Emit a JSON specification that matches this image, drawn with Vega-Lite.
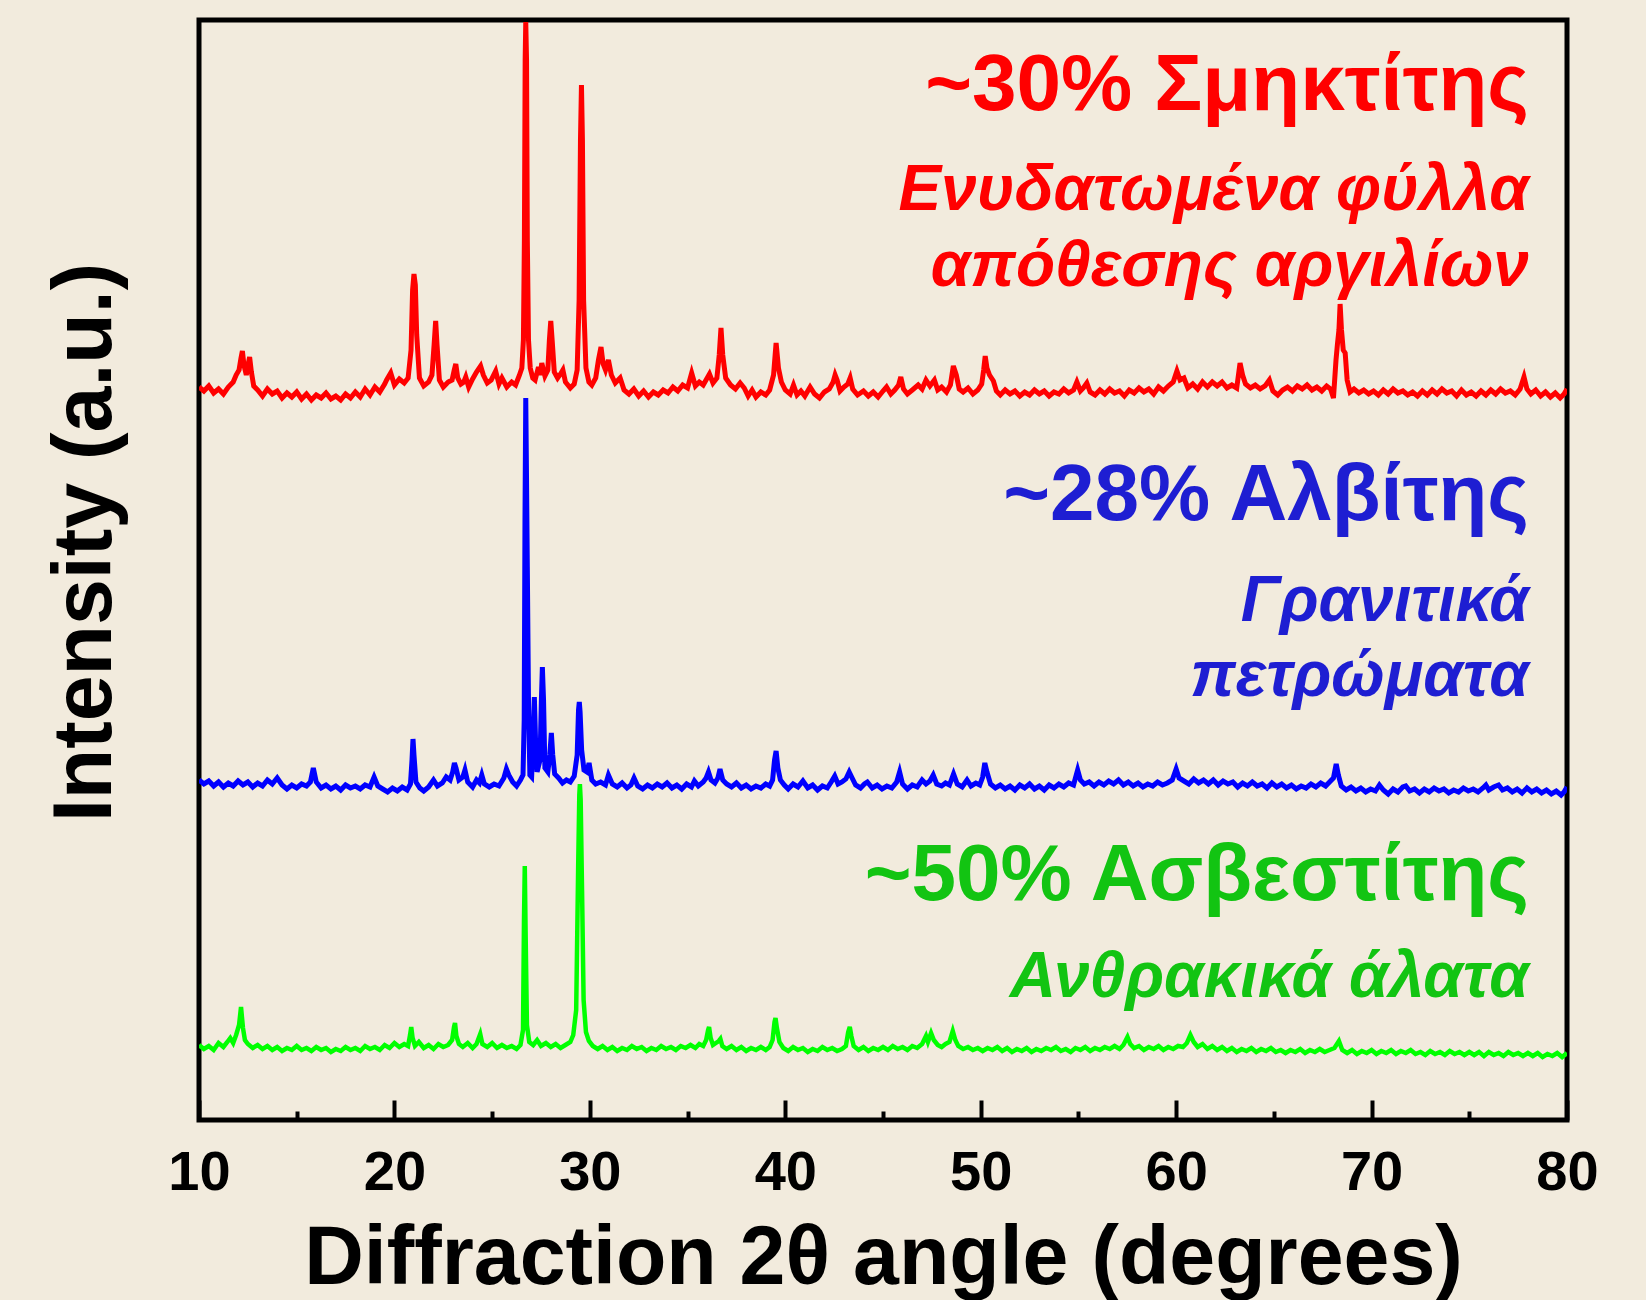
{
 "$schema": "https://vega.github.io/schema/vega-lite/v6.json",
 "width": 1368, "height": 1100,
 "autosize": {"type": "none"},
 "padding": {"left": 199, "top": 20, "right": 79, "bottom": 180},
 "background": "#F2EBDD",
 "config": {"view": {"stroke": "#000000", "strokeWidth": 5}, "font": "Liberation Sans"},
 "datasets": {
  "red": [
{"x":10.0,"y":733},{"x":10.25,"y":729},{"x":10.5,"y":734},{"x":10.75,"y":727},{"x":11.0,"y":731},{"x":11.25,"y":726},{"x":11.5,"y":733},{"x":11.75,"y":738},{"x":11.9,"y":745},{"x":12.05,"y":750},{"x":12.15,"y":762},{"x":12.22,"y":769},{"x":12.3,"y":755},{"x":12.42,"y":745},{"x":12.52,"y":756},{"x":12.59,"y":763},{"x":12.68,"y":748},{"x":12.8,"y":734},{"x":13.0,"y":730},{"x":13.25,"y":724},{"x":13.5,"y":731},{"x":13.75,"y":726},{"x":14.0,"y":729},{"x":14.25,"y":722},{"x":14.5,"y":727},{"x":14.75,"y":723},{"x":15.0,"y":728},{"x":15.25,"y":721},{"x":15.5,"y":726},{"x":15.75,"y":720},{"x":16.0,"y":725},{"x":16.25,"y":722},{"x":16.5,"y":727},{"x":16.75,"y":721},{"x":17.0,"y":724},{"x":17.25,"y":720},{"x":17.5,"y":726},{"x":17.75,"y":722},{"x":18.0,"y":728},{"x":18.25,"y":723},{"x":18.5,"y":731},{"x":18.75,"y":725},{"x":19.0,"y":733},{"x":19.25,"y":728},{"x":19.5,"y":736},{"x":19.6,"y":740},{"x":19.81,"y":747},{"x":20.0,"y":735},{"x":20.25,"y":741},{"x":20.5,"y":737},{"x":20.7,"y":742},{"x":20.85,"y":770},{"x":20.93,"y":830},{"x":21.0,"y":846},{"x":21.07,"y":835},{"x":21.14,"y":785},{"x":21.28,"y":742},{"x":21.5,"y":734},{"x":21.75,"y":738},{"x":21.92,"y":745},{"x":22.03,"y":775},{"x":22.11,"y":799},{"x":22.18,"y":775},{"x":22.3,"y":740},{"x":22.5,"y":733},{"x":22.75,"y":738},{"x":22.95,"y":740},{"x":23.06,"y":750},{"x":23.14,"y":756},{"x":23.24,"y":742},{"x":23.4,"y":736},{"x":23.55,"y":738},{"x":23.65,"y":743},{"x":23.8,"y":733},{"x":24.0,"y":741},{"x":24.2,"y":748},{"x":24.41,"y":754},{"x":24.55,"y":745},{"x":24.75,"y":737},{"x":24.95,"y":740},{"x":25.18,"y":749},{"x":25.35,"y":736},{"x":25.5,"y":742},{"x":25.75,"y":733},{"x":26.0,"y":738},{"x":26.2,"y":735},{"x":26.4,"y":745},{"x":26.52,"y":752},{"x":26.6,"y":780},{"x":26.65,"y":880},{"x":26.69,"y":1060},{"x":26.72,"y":1098},{"x":26.76,"y":1060},{"x":26.8,"y":880},{"x":26.86,"y":780},{"x":26.95,"y":752},{"x":27.08,"y":742},{"x":27.2,"y":740},{"x":27.37,"y":753},{"x":27.46,"y":745},{"x":27.54,"y":757},{"x":27.7,"y":744},{"x":27.85,"y":750},{"x":27.93,"y":780},{"x":28.0,"y":799},{"x":28.07,"y":780},{"x":28.18,"y":748},{"x":28.35,"y":742},{"x":28.5,"y":746},{"x":28.62,"y":750},{"x":28.75,"y":738},{"x":29.0,"y":732},{"x":29.2,"y":736},{"x":29.35,"y":750},{"x":29.45,"y":820},{"x":29.52,"y":980},{"x":29.57,"y":1035},{"x":29.62,"y":980},{"x":29.68,"y":820},{"x":29.8,"y":752},{"x":29.95,"y":738},{"x":30.1,"y":735},{"x":30.3,"y":742},{"x":30.44,"y":760},{"x":30.57,"y":773},{"x":30.68,"y":756},{"x":30.8,"y":750},{"x":30.95,"y":760},{"x":31.1,"y":745},{"x":31.3,"y":737},{"x":31.55,"y":742},{"x":31.75,"y":730},{"x":32.0,"y":726},{"x":32.25,"y":731},{"x":32.5,"y":724},{"x":32.75,"y":729},{"x":33.0,"y":723},{"x":33.25,"y":728},{"x":33.5,"y":725},{"x":33.75,"y":730},{"x":34.0,"y":727},{"x":34.25,"y":733},{"x":34.5,"y":729},{"x":34.75,"y":735},{"x":35.0,"y":732},{"x":35.21,"y":747},{"x":35.4,"y":734},{"x":35.6,"y":738},{"x":35.8,"y":735},{"x":36.12,"y":746},{"x":36.3,"y":737},{"x":36.5,"y":742},{"x":36.62,"y":765},{"x":36.71,"y":792},{"x":36.8,"y":765},{"x":36.95,"y":742},{"x":37.2,"y":735},{"x":37.45,"y":731},{"x":37.69,"y":737},{"x":37.9,"y":732},{"x":38.1,"y":724},{"x":38.3,"y":730},{"x":38.5,"y":723},{"x":38.75,"y":728},{"x":39.0,"y":725},{"x":39.2,"y":730},{"x":39.4,"y":745},{"x":39.53,"y":777},{"x":39.65,"y":752},{"x":39.8,"y":738},{"x":40.0,"y":730},{"x":40.25,"y":726},{"x":40.42,"y":735},{"x":40.6,"y":725},{"x":40.8,"y":729},{"x":41.0,"y":724},{"x":41.27,"y":733},{"x":41.5,"y":726},{"x":41.75,"y":722},{"x":42.0,"y":728},{"x":42.25,"y":731},{"x":42.45,"y":738},{"x":42.55,"y":745},{"x":42.65,"y":740},{"x":42.8,"y":729},{"x":43.0,"y":733},{"x":43.2,"y":736},{"x":43.32,"y":742},{"x":43.45,"y":731},{"x":43.7,"y":725},{"x":44.0,"y":729},{"x":44.25,"y":724},{"x":44.5,"y":728},{"x":44.75,"y":723},{"x":45.0,"y":729},{"x":45.18,"y":733},{"x":45.4,"y":726},{"x":45.6,"y":730},{"x":45.8,"y":735},{"x":45.91,"y":743},{"x":46.05,"y":731},{"x":46.25,"y":726},{"x":46.5,"y":730},{"x":46.8,"y":735},{"x":47.0,"y":731},{"x":47.2,"y":740},{"x":47.4,"y":734},{"x":47.63,"y":740},{"x":47.8,"y":730},{"x":48.0,"y":733},{"x":48.25,"y":728},{"x":48.45,"y":735},{"x":48.6,"y":754},{"x":48.75,"y":745},{"x":48.9,"y":731},{"x":49.1,"y":728},{"x":49.35,"y":732},{"x":49.6,"y":726},{"x":49.85,"y":730},{"x":50.05,"y":736},{"x":50.15,"y":750},{"x":50.23,"y":764},{"x":50.32,"y":752},{"x":50.45,"y":745},{"x":50.65,"y":739},{"x":50.8,"y":729},{"x":51.0,"y":725},{"x":51.25,"y":730},{"x":51.5,"y":726},{"x":51.75,"y":729},{"x":52.0,"y":724},{"x":52.25,"y":728},{"x":52.5,"y":725},{"x":52.75,"y":730},{"x":53.0,"y":726},{"x":53.25,"y":729},{"x":53.5,"y":724},{"x":53.75,"y":728},{"x":54.0,"y":726},{"x":54.25,"y":731},{"x":54.5,"y":727},{"x":54.75,"y":730},{"x":54.92,"y":738},{"x":55.1,"y":729},{"x":55.25,"y":732},{"x":55.43,"y":737},{"x":55.6,"y":728},{"x":55.85,"y":725},{"x":56.1,"y":730},{"x":56.35,"y":726},{"x":56.6,"y":731},{"x":56.85,"y":727},{"x":57.1,"y":729},{"x":57.35,"y":724},{"x":57.6,"y":730},{"x":57.85,"y":727},{"x":58.1,"y":732},{"x":58.35,"y":728},{"x":58.6,"y":731},{"x":58.85,"y":726},{"x":59.1,"y":733},{"x":59.35,"y":729},{"x":59.6,"y":734},{"x":59.85,"y":738},{"x":60.04,"y":749},{"x":60.2,"y":740},{"x":60.4,"y":742},{"x":60.6,"y":732},{"x":60.85,"y":736},{"x":61.1,"y":731},{"x":61.35,"y":738},{"x":61.6,"y":733},{"x":61.85,"y":738},{"x":62.1,"y":734},{"x":62.35,"y":738},{"x":62.6,"y":732},{"x":62.85,"y":735},{"x":63.1,"y":732},{"x":63.27,"y":757},{"x":63.4,"y":745},{"x":63.55,"y":736},{"x":63.8,"y":732},{"x":64.05,"y":735},{"x":64.3,"y":731},{"x":64.55,"y":734},{"x":64.77,"y":740},{"x":64.95,"y":729},{"x":65.2,"y":725},{"x":65.45,"y":730},{"x":65.7,"y":733},{"x":65.95,"y":729},{"x":66.2,"y":734},{"x":66.45,"y":731},{"x":66.7,"y":735},{"x":66.95,"y":730},{"x":67.2,"y":733},{"x":67.45,"y":729},{"x":67.7,"y":734},{"x":67.9,"y":731},{"x":68.05,"y":722},{"x":68.18,"y":760},{"x":68.25,"y":775},{"x":68.33,"y":790},{"x":68.39,"y":816},{"x":68.46,"y":790},{"x":68.55,"y":770},{"x":68.65,"y":767},{"x":68.75,"y":740},{"x":68.9,"y":728},{"x":69.1,"y":731},{"x":69.35,"y":727},{"x":69.6,"y":730},{"x":69.85,"y":726},{"x":70.1,"y":729},{"x":70.35,"y":725},{"x":70.6,"y":730},{"x":70.85,"y":726},{"x":71.1,"y":731},{"x":71.35,"y":727},{"x":71.6,"y":729},{"x":71.85,"y":725},{"x":72.1,"y":728},{"x":72.35,"y":724},{"x":72.6,"y":729},{"x":72.85,"y":725},{"x":73.1,"y":730},{"x":73.35,"y":726},{"x":73.6,"y":731},{"x":73.85,"y":727},{"x":74.1,"y":729},{"x":74.35,"y":724},{"x":74.6,"y":730},{"x":74.85,"y":725},{"x":75.1,"y":728},{"x":75.35,"y":724},{"x":75.6,"y":729},{"x":75.85,"y":725},{"x":76.1,"y":730},{"x":76.35,"y":726},{"x":76.6,"y":731},{"x":76.85,"y":727},{"x":77.1,"y":729},{"x":77.35,"y":725},{"x":77.6,"y":731},{"x":77.8,"y":743},{"x":77.95,"y":731},{"x":78.15,"y":726},{"x":78.4,"y":730},{"x":78.65,"y":724},{"x":78.9,"y":728},{"x":79.15,"y":723},{"x":79.4,"y":727},{"x":79.65,"y":722},{"x":79.85,"y":726},{"x":80.0,"y":731}
  ],
  "blue": [
{"x":10.0,"y":340},{"x":10.25,"y":336},{"x":10.5,"y":339},{"x":10.75,"y":334},{"x":11.0,"y":338},{"x":11.25,"y":333},{"x":11.5,"y":337},{"x":11.75,"y":334},{"x":12.0,"y":339},{"x":12.25,"y":335},{"x":12.5,"y":338},{"x":12.75,"y":333},{"x":13.0,"y":337},{"x":13.25,"y":334},{"x":13.5,"y":340},{"x":13.75,"y":336},{"x":14.0,"y":342},{"x":14.25,"y":335},{"x":14.5,"y":331},{"x":14.75,"y":335},{"x":15.0,"y":332},{"x":15.25,"y":336},{"x":15.5,"y":334},{"x":15.7,"y":338},{"x":15.85,"y":352},{"x":16.0,"y":338},{"x":16.25,"y":332},{"x":16.5,"y":335},{"x":16.75,"y":331},{"x":17.0,"y":334},{"x":17.25,"y":330},{"x":17.5,"y":335},{"x":17.75,"y":332},{"x":18.0,"y":334},{"x":18.25,"y":331},{"x":18.5,"y":335},{"x":18.75,"y":333},{"x":18.96,"y":343},{"x":19.15,"y":334},{"x":19.4,"y":331},{"x":19.65,"y":328},{"x":19.9,"y":332},{"x":20.15,"y":329},{"x":20.4,"y":333},{"x":20.65,"y":330},{"x":20.82,"y":336},{"x":20.9,"y":360},{"x":20.95,"y":381},{"x":21.0,"y":365},{"x":21.1,"y":338},{"x":21.3,"y":332},{"x":21.5,"y":329},{"x":21.75,"y":333},{"x":22.0,"y":340},{"x":22.2,"y":334},{"x":22.45,"y":337},{"x":22.65,"y":343},{"x":22.85,"y":340},{"x":22.98,"y":348},{"x":23.07,"y":357},{"x":23.15,"y":352},{"x":23.3,"y":340},{"x":23.5,"y":343},{"x":23.61,"y":350},{"x":23.75,"y":338},{"x":24.0,"y":333},{"x":24.2,"y":340},{"x":24.35,"y":337},{"x":24.47,"y":345},{"x":24.6,"y":336},{"x":24.85,"y":333},{"x":25.1,"y":336},{"x":25.35,"y":334},{"x":25.6,"y":342},{"x":25.73,"y":351},{"x":25.85,"y":345},{"x":26.05,"y":338},{"x":26.25,"y":334},{"x":26.45,"y":340},{"x":26.58,"y":345},{"x":26.64,"y":400},{"x":26.68,"y":600},{"x":26.72,"y":722},{"x":26.76,"y":640},{"x":26.8,"y":553},{"x":26.86,"y":420},{"x":26.93,"y":345},{"x":27.02,"y":343},{"x":27.1,"y":380},{"x":27.16,"y":423},{"x":27.22,"y":380},{"x":27.3,"y":348},{"x":27.45,"y":360},{"x":27.52,"y":420},{"x":27.57,"y":453},{"x":27.63,"y":420},{"x":27.7,"y":352},{"x":27.85,"y":348},{"x":27.95,"y":365},{"x":28.03,"y":387},{"x":28.1,"y":365},{"x":28.2,"y":346},{"x":28.4,"y":342},{"x":28.6,"y":337},{"x":28.8,"y":340},{"x":29.0,"y":338},{"x":29.2,"y":344},{"x":29.35,"y":365},{"x":29.42,"y":410},{"x":29.46,"y":418},{"x":29.5,"y":408},{"x":29.58,"y":370},{"x":29.7,"y":350},{"x":29.85,"y":348},{"x":29.96,"y":357},{"x":30.1,"y":340},{"x":30.3,"y":336},{"x":30.55,"y":338},{"x":30.8,"y":335},{"x":30.95,"y":345},{"x":31.15,"y":336},{"x":31.4,"y":333},{"x":31.65,"y":337},{"x":31.9,"y":332},{"x":32.1,"y":335},{"x":32.26,"y":342},{"x":32.45,"y":334},{"x":32.7,"y":331},{"x":32.95,"y":335},{"x":33.2,"y":332},{"x":33.45,"y":336},{"x":33.7,"y":333},{"x":33.95,"y":337},{"x":34.2,"y":332},{"x":34.45,"y":335},{"x":34.7,"y":331},{"x":34.95,"y":336},{"x":35.2,"y":333},{"x":35.35,"y":339},{"x":35.55,"y":334},{"x":35.8,"y":338},{"x":35.95,"y":342},{"x":36.07,"y":348},{"x":36.2,"y":340},{"x":36.4,"y":337},{"x":36.55,"y":342},{"x":36.66,"y":351},{"x":36.8,"y":340},{"x":37.0,"y":336},{"x":37.25,"y":333},{"x":37.5,"y":337},{"x":37.75,"y":332},{"x":38.0,"y":335},{"x":38.25,"y":331},{"x":38.5,"y":334},{"x":38.75,"y":332},{"x":39.0,"y":336},{"x":39.2,"y":334},{"x":39.35,"y":340},{"x":39.45,"y":360},{"x":39.53,"y":369},{"x":39.62,"y":352},{"x":39.75,"y":340},{"x":39.95,"y":335},{"x":40.15,"y":331},{"x":40.4,"y":336},{"x":40.65,"y":333},{"x":40.9,"y":339},{"x":41.15,"y":332},{"x":41.4,"y":335},{"x":41.65,"y":330},{"x":41.9,"y":334},{"x":42.15,"y":332},{"x":42.35,"y":338},{"x":42.53,"y":344},{"x":42.7,"y":336},{"x":42.9,"y":338},{"x":43.1,"y":341},{"x":43.27,"y":348},{"x":43.42,"y":342},{"x":43.6,"y":335},{"x":43.85,"y":332},{"x":44.05,"y":336},{"x":44.2,"y":338},{"x":44.45,"y":332},{"x":44.7,"y":335},{"x":44.95,"y":331},{"x":45.2,"y":334},{"x":45.45,"y":332},{"x":45.7,"y":338},{"x":45.85,"y":348},{"x":46.0,"y":336},{"x":46.25,"y":331},{"x":46.5,"y":335},{"x":46.75,"y":333},{"x":47.0,"y":340},{"x":47.2,"y":336},{"x":47.4,"y":339},{"x":47.57,"y":345},{"x":47.75,"y":336},{"x":48.0,"y":334},{"x":48.2,"y":337},{"x":48.4,"y":335},{"x":48.61,"y":346},{"x":48.8,"y":336},{"x":49.05,"y":333},{"x":49.3,"y":340},{"x":49.5,"y":334},{"x":49.75,"y":337},{"x":49.95,"y":335},{"x":50.1,"y":343},{"x":50.21,"y":357},{"x":50.32,"y":348},{"x":50.5,"y":336},{"x":50.75,"y":332},{"x":51.0,"y":335},{"x":51.25,"y":331},{"x":51.5,"y":334},{"x":51.75,"y":330},{"x":52.0,"y":335},{"x":52.25,"y":332},{"x":52.5,"y":336},{"x":52.75,"y":331},{"x":53.0,"y":334},{"x":53.25,"y":330},{"x":53.5,"y":335},{"x":53.75,"y":332},{"x":54.0,"y":336},{"x":54.25,"y":333},{"x":54.5,"y":337},{"x":54.75,"y":335},{"x":54.96,"y":350},{"x":55.1,"y":340},{"x":55.3,"y":336},{"x":55.55,"y":338},{"x":55.8,"y":334},{"x":56.05,"y":338},{"x":56.3,"y":335},{"x":56.55,"y":339},{"x":56.8,"y":336},{"x":57.05,"y":340},{"x":57.3,"y":335},{"x":57.55,"y":338},{"x":57.8,"y":334},{"x":58.05,"y":337},{"x":58.3,"y":333},{"x":58.55,"y":336},{"x":58.8,"y":334},{"x":59.05,"y":338},{"x":59.3,"y":335},{"x":59.55,"y":337},{"x":59.8,"y":340},{"x":60.0,"y":351},{"x":60.15,"y":342},{"x":60.4,"y":339},{"x":60.65,"y":336},{"x":60.9,"y":341},{"x":61.15,"y":337},{"x":61.4,"y":340},{"x":61.65,"y":336},{"x":61.9,"y":340},{"x":62.15,"y":335},{"x":62.4,"y":339},{"x":62.65,"y":336},{"x":62.9,"y":338},{"x":63.15,"y":333},{"x":63.4,"y":337},{"x":63.65,"y":334},{"x":63.9,"y":338},{"x":64.15,"y":334},{"x":64.4,"y":336},{"x":64.65,"y":332},{"x":64.9,"y":337},{"x":65.15,"y":333},{"x":65.4,"y":336},{"x":65.65,"y":332},{"x":65.9,"y":335},{"x":66.15,"y":331},{"x":66.4,"y":334},{"x":66.65,"y":332},{"x":66.9,"y":336},{"x":67.15,"y":333},{"x":67.4,"y":337},{"x":67.65,"y":334},{"x":67.9,"y":339},{"x":68.05,"y":342},{"x":68.19,"y":356},{"x":68.3,"y":345},{"x":68.45,"y":334},{"x":68.7,"y":330},{"x":68.95,"y":333},{"x":69.2,"y":329},{"x":69.45,"y":332},{"x":69.7,"y":328},{"x":69.95,"y":331},{"x":70.2,"y":329},{"x":70.4,"y":335},{"x":70.6,"y":330},{"x":70.85,"y":326},{"x":71.1,"y":331},{"x":71.35,"y":328},{"x":71.6,"y":333},{"x":71.75,"y":334},{"x":71.95,"y":329},{"x":72.2,"y":331},{"x":72.45,"y":327},{"x":72.7,"y":331},{"x":72.95,"y":328},{"x":73.2,"y":332},{"x":73.45,"y":329},{"x":73.7,"y":331},{"x":73.95,"y":327},{"x":74.2,"y":330},{"x":74.45,"y":328},{"x":74.7,"y":332},{"x":74.95,"y":329},{"x":75.2,"y":331},{"x":75.45,"y":328},{"x":75.7,"y":332},{"x":75.85,"y":335},{"x":76.0,"y":330},{"x":76.25,"y":333},{"x":76.5,"y":335},{"x":76.7,"y":330},{"x":76.95,"y":332},{"x":77.2,"y":328},{"x":77.45,"y":331},{"x":77.7,"y":327},{"x":77.95,"y":332},{"x":78.2,"y":328},{"x":78.45,"y":331},{"x":78.7,"y":327},{"x":78.95,"y":330},{"x":79.2,"y":326},{"x":79.45,"y":329},{"x":79.7,"y":325},{"x":79.85,"y":328},{"x":80.0,"y":333}
  ],
  "green": [
{"x":10.0,"y":75},{"x":10.25,"y":71},{"x":10.5,"y":74},{"x":10.75,"y":70},{"x":11.0,"y":77},{"x":11.25,"y":73},{"x":11.45,"y":78},{"x":11.6,"y":82},{"x":11.75,"y":77},{"x":11.9,"y":85},{"x":12.05,"y":95},{"x":12.15,"y":113},{"x":12.25,"y":92},{"x":12.35,"y":80},{"x":12.5,"y":76},{"x":12.75,"y":72},{"x":13.0,"y":75},{"x":13.25,"y":71},{"x":13.5,"y":74},{"x":13.75,"y":70},{"x":14.0,"y":73},{"x":14.25,"y":69},{"x":14.5,"y":72},{"x":14.75,"y":70},{"x":15.0,"y":74},{"x":15.25,"y":70},{"x":15.5,"y":72},{"x":15.75,"y":69},{"x":16.0,"y":73},{"x":16.25,"y":70},{"x":16.5,"y":72},{"x":16.75,"y":68},{"x":17.0,"y":71},{"x":17.25,"y":69},{"x":17.5,"y":73},{"x":17.75,"y":70},{"x":18.0,"y":72},{"x":18.25,"y":69},{"x":18.5,"y":74},{"x":18.75,"y":71},{"x":19.0,"y":73},{"x":19.25,"y":70},{"x":19.5,"y":75},{"x":19.75,"y":72},{"x":20.0,"y":77},{"x":20.25,"y":73},{"x":20.5,"y":76},{"x":20.7,"y":74},{"x":20.8,"y":85},{"x":20.86,"y":93},{"x":20.93,"y":82},{"x":21.05,"y":74},{"x":21.25,"y":78},{"x":21.5,"y":72},{"x":21.75,"y":75},{"x":22.0,"y":71},{"x":22.25,"y":76},{"x":22.5,"y":73},{"x":22.75,"y":75},{"x":22.95,"y":80},{"x":23.05,"y":93},{"x":23.1,"y":97},{"x":23.17,"y":84},{"x":23.3,"y":76},{"x":23.5,"y":73},{"x":23.75,"y":77},{"x":24.0,"y":72},{"x":24.2,"y":76},{"x":24.39,"y":86},{"x":24.5,"y":76},{"x":24.75,"y":73},{"x":25.0,"y":77},{"x":25.25,"y":72},{"x":25.5,"y":75},{"x":25.75,"y":72},{"x":26.0,"y":74},{"x":26.25,"y":71},{"x":26.45,"y":75},{"x":26.58,"y":90},{"x":26.63,"y":200},{"x":26.67,"y":254},{"x":26.71,"y":190},{"x":26.78,"y":95},{"x":26.9,"y":78},{"x":27.1,"y":75},{"x":27.3,"y":80},{"x":27.5,"y":74},{"x":27.75,"y":77},{"x":28.0,"y":73},{"x":28.25,"y":76},{"x":28.5,"y":72},{"x":28.75,"y":75},{"x":29.0,"y":78},{"x":29.15,"y":85},{"x":29.3,"y":110},{"x":29.4,"y":250},{"x":29.46,"y":325},{"x":29.49,"y":336},{"x":29.53,"y":320},{"x":29.6,"y":230},{"x":29.68,"y":120},{"x":29.8,"y":88},{"x":29.95,"y":79},{"x":30.15,"y":74},{"x":30.4,"y":71},{"x":30.65,"y":74},{"x":30.9,"y":70},{"x":31.15,"y":73},{"x":31.4,"y":69},{"x":31.65,"y":72},{"x":31.9,"y":70},{"x":32.15,"y":74},{"x":32.4,"y":71},{"x":32.65,"y":73},{"x":32.9,"y":69},{"x":33.15,"y":72},{"x":33.4,"y":70},{"x":33.65,"y":74},{"x":33.9,"y":71},{"x":34.15,"y":73},{"x":34.4,"y":70},{"x":34.65,"y":74},{"x":34.9,"y":72},{"x":35.15,"y":75},{"x":35.4,"y":72},{"x":35.6,"y":76},{"x":35.8,"y":74},{"x":35.95,"y":80},{"x":36.05,"y":90},{"x":36.1,"y":93},{"x":36.18,"y":82},{"x":36.3,"y":75},{"x":36.45,"y":77},{"x":36.6,"y":79},{"x":36.68,"y":81},{"x":36.78,"y":74},{"x":37.0,"y":71},{"x":37.25,"y":74},{"x":37.5,"y":70},{"x":37.75,"y":73},{"x":38.0,"y":69},{"x":38.25,"y":72},{"x":38.5,"y":70},{"x":38.75,"y":73},{"x":39.0,"y":70},{"x":39.2,"y":73},{"x":39.35,"y":80},{"x":39.45,"y":98},{"x":39.5,"y":102},{"x":39.57,"y":92},{"x":39.7,"y":78},{"x":39.9,"y":72},{"x":40.15,"y":69},{"x":40.4,"y":73},{"x":40.65,"y":70},{"x":40.9,"y":72},{"x":41.15,"y":68},{"x":41.4,"y":71},{"x":41.65,"y":69},{"x":41.9,"y":73},{"x":42.15,"y":70},{"x":42.4,"y":72},{"x":42.65,"y":69},{"x":42.9,"y":71},{"x":43.1,"y":74},{"x":43.22,"y":88},{"x":43.3,"y":93},{"x":43.38,"y":84},{"x":43.5,"y":74},{"x":43.75,"y":70},{"x":44.0,"y":73},{"x":44.25,"y":69},{"x":44.5,"y":72},{"x":44.75,"y":70},{"x":45.0,"y":73},{"x":45.25,"y":70},{"x":45.5,"y":74},{"x":45.75,"y":71},{"x":46.0,"y":73},{"x":46.25,"y":70},{"x":46.5,"y":74},{"x":46.75,"y":72},{"x":47.0,"y":76},{"x":47.2,"y":84},{"x":47.3,"y":78},{"x":47.46,"y":87},{"x":47.6,"y":80},{"x":47.8,"y":75},{"x":48.0,"y":73},{"x":48.2,"y":76},{"x":48.4,"y":78},{"x":48.57,"y":89},{"x":48.7,"y":80},{"x":48.85,"y":74},{"x":49.1,"y":71},{"x":49.35,"y":73},{"x":49.6,"y":70},{"x":49.85,"y":72},{"x":50.1,"y":69},{"x":50.35,"y":72},{"x":50.6,"y":70},{"x":50.85,"y":73},{"x":51.1,"y":69},{"x":51.35,"y":72},{"x":51.6,"y":68},{"x":51.85,"y":71},{"x":52.1,"y":69},{"x":52.35,"y":72},{"x":52.6,"y":68},{"x":52.85,"y":71},{"x":53.1,"y":69},{"x":53.35,"y":72},{"x":53.6,"y":70},{"x":53.85,"y":73},{"x":54.1,"y":69},{"x":54.35,"y":71},{"x":54.6,"y":68},{"x":54.85,"y":72},{"x":55.1,"y":70},{"x":55.35,"y":73},{"x":55.6,"y":69},{"x":55.85,"y":72},{"x":56.1,"y":70},{"x":56.35,"y":73},{"x":56.6,"y":71},{"x":56.85,"y":74},{"x":57.1,"y":71},{"x":57.3,"y":75},{"x":57.51,"y":83},{"x":57.65,"y":76},{"x":57.85,"y":72},{"x":58.1,"y":74},{"x":58.35,"y":70},{"x":58.6,"y":73},{"x":58.85,"y":71},{"x":59.1,"y":74},{"x":59.35,"y":70},{"x":59.6,"y":73},{"x":59.85,"y":71},{"x":60.1,"y":74},{"x":60.35,"y":73},{"x":60.55,"y":77},{"x":60.73,"y":85},{"x":60.9,"y":78},{"x":61.1,"y":73},{"x":61.35,"y":76},{"x":61.6,"y":71},{"x":61.85,"y":74},{"x":62.1,"y":70},{"x":62.35,"y":73},{"x":62.6,"y":69},{"x":62.85,"y":72},{"x":63.1,"y":68},{"x":63.35,"y":71},{"x":63.6,"y":69},{"x":63.85,"y":72},{"x":64.1,"y":68},{"x":64.35,"y":71},{"x":64.6,"y":69},{"x":64.85,"y":72},{"x":65.1,"y":68},{"x":65.35,"y":70},{"x":65.6,"y":67},{"x":65.85,"y":70},{"x":66.1,"y":68},{"x":66.35,"y":71},{"x":66.6,"y":67},{"x":66.85,"y":70},{"x":67.1,"y":68},{"x":67.35,"y":71},{"x":67.6,"y":68},{"x":67.85,"y":70},{"x":68.1,"y":72},{"x":68.33,"y":79},{"x":68.5,"y":70},{"x":68.75,"y":67},{"x":69.0,"y":70},{"x":69.25,"y":66},{"x":69.5,"y":69},{"x":69.75,"y":67},{"x":70.0,"y":70},{"x":70.25,"y":66},{"x":70.5,"y":69},{"x":70.75,"y":67},{"x":71.0,"y":70},{"x":71.25,"y":66},{"x":71.5,"y":69},{"x":71.75,"y":67},{"x":72.0,"y":70},{"x":72.25,"y":66},{"x":72.5,"y":68},{"x":72.75,"y":65},{"x":73.0,"y":69},{"x":73.25,"y":66},{"x":73.5,"y":68},{"x":73.75,"y":65},{"x":74.0,"y":69},{"x":74.25,"y":66},{"x":74.5,"y":68},{"x":74.75,"y":65},{"x":75.0,"y":68},{"x":75.25,"y":65},{"x":75.5,"y":68},{"x":75.75,"y":64},{"x":76.0,"y":68},{"x":76.25,"y":65},{"x":76.5,"y":67},{"x":76.75,"y":64},{"x":77.0,"y":68},{"x":77.25,"y":65},{"x":77.5,"y":67},{"x":77.75,"y":64},{"x":78.0,"y":67},{"x":78.25,"y":64},{"x":78.5,"y":67},{"x":78.75,"y":63},{"x":79.0,"y":66},{"x":79.25,"y":64},{"x":79.5,"y":67},{"x":79.75,"y":63},{"x":80.0,"y":67}
  ],
  "notes": [
   {"t": "~30% Σμηκτίτης", "x": 78.05, "y": 1010, "s": "r", "k": "m"},
   {"t": "Ενυδατωμένα φύλλα", "x": 78.05, "y": 910, "s": "r", "k": "d"},
   {"t": "απόθεσης αργιλίων", "x": 78.05, "y": 834, "s": "r", "k": "d"},
   {"t": "~28% Αλβίτης", "x": 78.05, "y": 600, "s": "b", "k": "m"},
   {"t": "Γρανιτικά", "x": 78.05, "y": 499, "s": "b", "k": "d"},
   {"t": "πετρώματα", "x": 78.05, "y": 424, "s": "b", "k": "d"},
   {"t": "~50% Ασβεστίτης", "x": 78.05, "y": 220, "s": "g", "k": "m"},
   {"t": "Ανθρακικά άλατα", "x": 78.05, "y": 123, "s": "g", "k": "d"}
  ]
 },
 "encoding": {
  "x": {"field": "x", "type": "quantitative",
   "scale": {"domain": [10, 80], "nice": false, "zero": false},
   "axis": {
    "values": [10, 15, 20, 25, 30, 35, 40, 45, 50, 55, 60, 65, 70, 75, 80],
    "labelExpr": "datum.value % 10 === 0 ? datum.label : ''",
    "tickSize": {"condition": {"test": "datum.value % 10 === 0", "value": -20}, "value": -9},
    "tickWidth": 4, "tickColor": "#000000", "domain": false, "grid": false,
    "labelFont": "Liberation Sans", "labelFontSize": 56, "labelFontWeight": "bold", "labelColor": "#000000",
    "labelPadding": 89, "labelBaseline": "alphabetic", "labelFlush": false, "labelOverlap": false,
    "title": "Diffraction 2θ angle (degrees)", "titleFont": "Liberation Sans", "titleFontSize": 82.5,
    "titleFontWeight": "bold", "titleColor": "#000000", "titleX": 684, "titleY": 163,
    "titleBaseline": "alphabetic", "titleAlign": "center"
   }
  },
  "y": {"field": "y", "type": "quantitative",
   "scale": {"domain": [0, 1100], "nice": false, "zero": false},
   "axis": {
    "labels": false, "ticks": false, "domain": false, "grid": false,
    "title": "Intensity (a.u.)", "titleFont": "Liberation Sans", "titleFontSize": 82.5,
    "titleFontWeight": "bold", "titleColor": "#000000", "titleX": -89, "titleY": 522,
    "titleAngle": -90, "titleBaseline": "alphabetic", "titleAlign": "center"
   }
  }
 },
 "layer": [
  {"data": {"name": "red"}, "mark": {"type": "line", "color": "#FF0000", "strokeWidth": 5, "clip": true}},
  {"data": {"name": "blue"}, "mark": {"type": "line", "color": "#0000FF", "strokeWidth": 5, "clip": true}},
  {"data": {"name": "green"}, "mark": {"type": "line", "color": "#00FF00", "strokeWidth": 4.5, "clip": true}},
  {"data": {"name": "notes"}, "transform": [{"filter": "datum.k === 'm'"}],
   "mark": {"type": "text", "align": "right", "baseline": "alphabetic", "fontSize": 80, "fontWeight": "bold", "font": "Liberation Sans"},
   "encoding": {"text": {"field": "t"},
    "color": {"field": "s", "type": "nominal", "scale": {"domain": ["r", "b", "g"], "range": ["#FF0000", "#1E1ED2", "#12C412"]}, "legend": null}}},
  {"data": {"name": "notes"}, "transform": [{"filter": "datum.k === 'd'"}],
   "mark": {"type": "text", "align": "right", "baseline": "alphabetic", "fontSize": 64, "fontWeight": "bold", "fontStyle": "italic", "font": "Liberation Sans"},
   "encoding": {"text": {"field": "t"},
    "color": {"field": "s", "type": "nominal", "scale": {"domain": ["r", "b", "g"], "range": ["#FF0000", "#1E1ED2", "#12C412"]}, "legend": null}}}
 ]
}
